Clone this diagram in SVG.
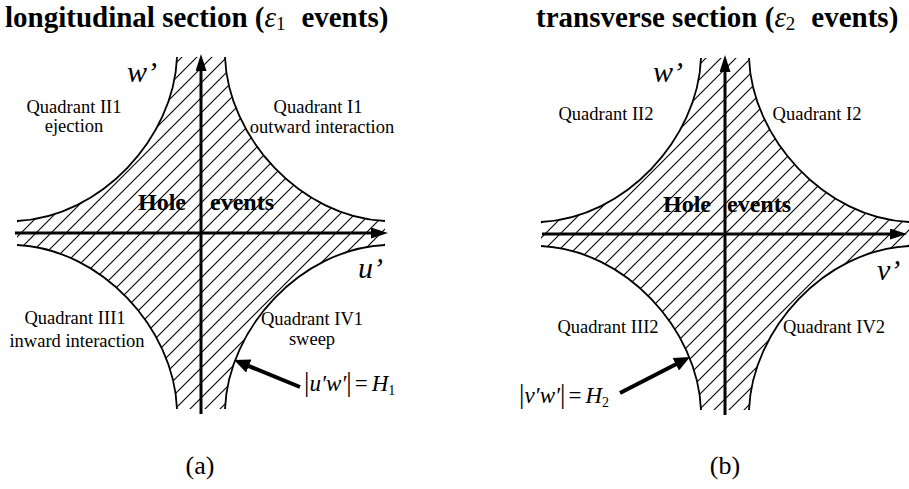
<svg xmlns="http://www.w3.org/2000/svg" xmlns:xlink="http://www.w3.org/1999/xlink" width="909" height="489" viewBox="0 0 909 489">
<style>
text{font-family:"Liberation Serif","Times New Roman",serif;fill:#000}
.title{font-size:29px;font-weight:bold}
.eps{font-style:italic;font-weight:normal}
.q{font-size:18.5px;text-anchor:middle}
.ax{font-size:30px;font-style:italic}
.hole{font-size:24px;font-weight:bold}
.f{font-size:23px}
.bar{font-size:27px}
.it{font-style:italic}
.cap{font-size:26px;text-anchor:middle}
.axis{stroke:#000;stroke-width:3;fill:none}
.pt{stroke:#000;stroke-width:4;fill:none}
</style>
<defs>
<pattern id="hatch" patternUnits="userSpaceOnUse" width="15" height="15">
<path d="M-2,2 L2,-2 M0,15 L15,0 M13,17 L17,13" stroke="#000" stroke-width="1.1"/>
</pattern>
<path id="star" d="M-24,-176 L24,-176 C27,-95 100,-16 184,-12 L184,12 C100,16 27,95 24,176 L-24,176 C-27,95 -100,16 -184,12 L-184,-12 C-100,-16 -27,-95 -24,-176 Z" fill="url(#hatch)" stroke="none"/>
<path id="curves" d="M24,-176 C27,-95 100,-16 184,-12 M184,12 C100,16 27,95 24,176 M-24,176 C-27,95 -100,16 -184,12 M-184,-12 C-100,-16 -27,-95 -24,-176" fill="none" stroke="#000" stroke-width="1.8"/>
<marker id="ah" markerUnits="userSpaceOnUse" viewBox="0 0 17 11" markerWidth="17" markerHeight="11" refX="9" refY="5.5" orient="auto">
<path d="M0,0 L17,5.5 L0,11 Z" fill="#000"/>
</marker>
<marker id="ph" markerUnits="userSpaceOnUse" viewBox="0 0 16 14" markerWidth="16" markerHeight="14" refX="10" refY="7" orient="auto">
<path d="M0,0 L16,7 L0,14 Z" fill="#000"/>
</marker>
</defs>

<g id="panel-a">
<text class="title" x="5" y="27">longitudinal section (<tspan class="eps">ε</tspan><tspan font-size="19" font-weight="normal" dy="3">1</tspan><tspan dx="16" dy="-3">events)</tspan></text>
<use xlink:href="#star" transform="translate(201,233)"/>
<use xlink:href="#curves" transform="translate(201,233)"/>
<g id="axes-a">
<line class="axis" x1="201" y1="414" x2="201" y2="62" marker-end="url(#ah)"/>
<line class="axis" x1="15" y1="233" x2="380" y2="233" marker-end="url(#ah)"/>
</g>
<text class="ax" x="127" y="82">w’</text>
<text class="ax" x="358" y="278">u’</text>
<text class="q" x="74" y="113">Quadrant II1</text>
<text class="q" x="74" y="132">ejection</text>
<text class="q" x="318" y="113">Quadrant I1</text>
<text class="q" x="322" y="133">outward interaction</text>
<text class="hole" y="210"><tspan x="138">Hole</tspan><tspan x="210">events</tspan></text>
<text class="q" x="75" y="324">Quadrant III1</text>
<text class="q" x="77" y="347">inward interaction</text>
<text class="q" x="312" y="325">Quadrant IV1</text>
<text class="q" x="312" y="345">sweep</text>
<line class="pt" x1="300" y1="387" x2="239.6" y2="362.3" marker-end="url(#ph)"/>
<text class="f" x="304" y="391"><tspan class="bar">|</tspan><tspan class="it">u′w′</tspan><tspan class="bar">|</tspan><tspan dx="3">=</tspan><tspan class="it" dx="4">H</tspan><tspan font-size="14" dy="4">1</tspan></text>
<text class="cap" x="200" y="474">(a)</text>
</g>

<g id="panel-b">
<text class="title" x="536" y="27">transverse section (<tspan class="eps">ε</tspan><tspan font-size="19" font-weight="normal" dy="3">2</tspan><tspan dx="16" dy="-3">events)</tspan></text>
<use xlink:href="#star" transform="translate(725,234)"/>
<use xlink:href="#curves" transform="translate(725,234)"/>
<g id="axes-b">
<line class="axis" x1="725" y1="415" x2="725" y2="63" marker-end="url(#ah)"/>
<line class="axis" x1="542" y1="234" x2="899" y2="234" marker-end="url(#ah)"/>
</g>
<text class="ax" x="653" y="82">w’</text>
<text class="ax" x="877" y="280">v’</text>
<text class="q" x="606" y="120">Quadrant II2</text>
<text class="q" x="817" y="120">Quadrant I2</text>
<text class="hole" y="212"><tspan x="663">Hole</tspan><tspan x="727">events</tspan></text>
<text class="q" x="608" y="333">Quadrant III2</text>
<text class="q" x="834" y="333">Quadrant IV2</text>
<line class="pt" x1="620" y1="393" x2="684.7" y2="359.7" marker-end="url(#ph)"/>
<text class="f" x="519" y="403"><tspan class="bar">|</tspan><tspan class="it">v′w′</tspan><tspan class="bar">|</tspan><tspan dx="3">=</tspan><tspan class="it" dx="4">H</tspan><tspan font-size="14" dy="4">2</tspan></text>
<text class="cap" x="725" y="474">(b)</text>
</g>
</svg>
